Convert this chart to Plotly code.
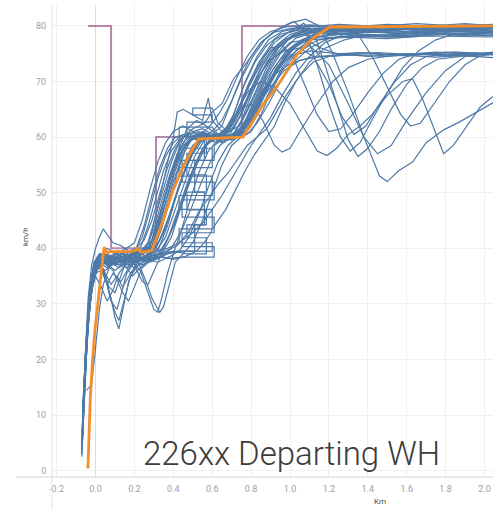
import plotly.graph_objects as go

# ---------------- data ----------------
# speed limit (step profile, km -> km/h)
limit_km = [-0.039, 0.08, 0.311, 0.753, 2.05]
limit_kmh = [80, 40, 60, 80, 80]

# target / reference profile (orange)
target_km = [-0.039, -0.027, -0.016, -0.003, 0.044, 0.06, 0.075, 0.177, 0.205, 0.214, 0.235, 0.29,
             0.347, 0.398, 0.45, 0.496, 0.532, 0.758, 0.861, 0.949, 1.036, 1.118, 1.205, 2.05]
target_kmh = [0.4, 12.9, 19.4, 25.3, 40.2, 39.2, 39.4, 39.4, 39.6, 40.0, 39.3, 39.6,
              45.0, 50.4, 54.6, 57.7, 59.7, 60.0, 65.8, 69.9, 74.8, 77.8, 79.8, 80.0]

# recorded runs (km, km/h)
run01 = [(-0.072,3),(-0.055,18),(-0.035,30),(-0.015,36),(0.01,38.5),(0.05,39),(0.1,38),(0.16,39.5),(0.22,39),(0.27,41),(0.31,46),(0.35,51),(0.39,55.5),(0.43,59),(0.47,60.5),(0.53,61),(0.6,60),(0.66,61),(0.71,64),(0.76,69),(0.82,73.5),(0.88,76.5),(0.95,78.5),(1.05,79.3),(1.2,79),(1.35,79.6),(1.5,79.2),(1.65,79.8),(1.8,79.4),(1.95,80.1),(2.05,79.8)]
run02 = [(-0.068,8),(-0.05,20),(-0.03,31),(-0.01,36.5),(0.02,38),(0.06,37),(0.1,38.5),(0.15,37.5),(0.2,39),(0.26,39.5),(0.3,42),(0.34,47),(0.38,52),(0.42,56),(0.46,58.5),(0.5,60),(0.56,59.5),(0.63,60.5),(0.7,60),(0.75,63),(0.8,67.5),(0.86,72),(0.92,75.5),(1.0,77.8),(1.1,78.8),(1.25,79.3),(1.4,78.9),(1.6,79.5),(1.8,79.1),(2.05,79.6)]
run03 = [(-0.065,12),(-0.048,22),(-0.028,32),(-0.005,37),(0.03,38.2),(0.08,37.5),(0.13,39),(0.19,38),(0.25,39.2),(0.3,40.5),(0.35,45),(0.4,50.5),(0.45,55),(0.5,58.5),(0.55,60),(0.62,59),(0.68,59.8),(0.74,61),(0.8,64.5),(0.86,68.5),(0.93,71.5),(1.0,73.2),(1.1,74.3),(1.3,74.8),(1.5,74.5),(1.7,75),(1.9,74.8),(2.05,75.2)]
run04 = [(-0.07,5),(-0.052,19),(-0.03,30),(-0.01,35),(0.02,37),(0.05,35),(0.08,31),(0.1,27.5),(0.12,25.5),(0.14,29),(0.17,34),(0.21,37.5),(0.26,38.5),(0.31,40),(0.36,43.5),(0.41,49),(0.46,54),(0.51,58),(0.56,60.5),(0.62,60),(0.7,59.5),(0.76,62),(0.82,66.5),(0.88,71),(0.95,75),(1.03,77.8),(1.12,78.8),(1.3,78.5),(1.5,79.2),(1.7,78.8),(1.9,79.5),(2.05,79.2)]
run05 = [(-0.066,10),(-0.05,21),(-0.032,29),(-0.012,34),(0.01,36.5),(0.04,36),(0.07,32),(0.1,28.5),(0.12,27),(0.15,31),(0.18,35),(0.22,37),(0.27,38),(0.32,39.5),(0.37,44),(0.42,50),(0.47,55),(0.52,59),(0.57,60.5),(0.63,59.5),(0.69,60.5),(0.74,63.5),(0.79,68),(0.85,72.5),(0.91,75.5),(0.98,77.5),(1.05,78.5),(1.2,77.9),(1.4,78.3),(1.6,78),(1.8,78.5),(2.05,78.2)]
run06 = [(-0.062,14),(-0.045,24),(-0.025,32),(0.0,36),(0.04,38),(0.09,37),(0.14,38.5),(0.19,37.5),(0.23,36),(0.27,32),(0.3,29),(0.32,28.5),(0.34,31),(0.37,35.5),(0.4,39),(0.44,43),(0.48,48),(0.53,53.5),(0.58,57.5),(0.63,59.5),(0.69,60),(0.75,60.5),(0.8,63),(0.86,67),(0.92,71),(0.98,74),(1.05,76),(1.15,77.5),(1.3,78.2),(1.5,78),(1.7,78.6),(1.9,78.3),(2.05,78.8)]
run07 = [(-0.07,2.5),(-0.058,14),(-0.04,26),(-0.02,33),(0.005,37),(0.05,38.5),(0.11,38),(0.17,39),(0.22,37.5),(0.26,34),(0.29,31),(0.33,28.5),(0.35,29.5),(0.38,33.5),(0.41,37.5),(0.45,39),(0.5,41),(0.55,45),(0.6,50),(0.65,55),(0.7,58.5),(0.75,60),(0.8,61),(0.85,64),(0.9,68),(0.96,72),(1.03,75),(1.1,76.5),(1.2,73),(1.3,66),(1.38,60),(1.45,57),(1.52,58.5),(1.6,63),(1.7,68),(1.8,72),(1.9,74.5),(2.05,75)]
run08 = [(-0.045,14.5),(-0.02,15.5),(0.0,22),(0.02,29),(0.04,33.5),(0.07,36.5),(0.11,38),(0.16,37),(0.21,38.5),(0.26,38),(0.31,39.5),(0.36,42),(0.41,47),(0.46,52),(0.51,56.5),(0.56,59.5),(0.62,60.5),(0.68,59.5),(0.73,60),(0.78,62.5),(0.84,66),(0.9,70.5),(0.97,74.5),(1.04,77),(1.12,78.5),(1.25,79.5),(1.45,79.2),(1.65,79.7),(1.85,79.4),(2.05,80)]
run09 = [(-0.068,7),(-0.054,20),(-0.038,31),(-0.02,37),(0.0,40),(0.02,42),(0.04,43.5),(0.06,42.5),(0.09,41),(0.13,40.5),(0.17,39.5),(0.21,40),(0.25,41.5),(0.29,45),(0.33,50),(0.37,54.5),(0.41,58),(0.45,60),(0.5,61.5),(0.56,62.5),(0.6,64.5),(0.65,66),(0.71,70.5),(0.78,73.5),(0.85,77),(0.92,79),(1.0,80.5),(1.08,81.2),(1.15,80),(1.22,75),(1.3,68),(1.38,60),(1.46,53),(1.5,52),(1.56,54),(1.63,55.5),(1.7,59),(1.79,61.3),(1.87,62.7),(1.98,64.9),(2.05,66.3)]
run10 = [(-0.064,11),(-0.049,23),(-0.03,32),(-0.01,37),(0.02,38.5),(0.06,39),(0.12,38),(0.18,39.5),(0.24,39),(0.29,40.5),(0.33,44.5),(0.37,49.5),(0.41,54),(0.45,57.5),(0.49,59.5),(0.55,60),(0.61,59.5),(0.66,60.5),(0.7,62.5),(0.75,66.5),(0.8,70.5),(0.86,74.5),(0.92,77.5),(1.0,79),(1.07,80.5),(1.12,79),(1.18,73),(1.25,65),(1.3,59.5),(1.35,56.5),(1.4,58),(1.46,61),(1.52,65),(1.6,69.5),(1.68,72.5),(1.76,74),(1.9,74.6),(2.05,74.3)]
run11 = [(-0.06,13),(-0.044,24),(-0.026,31.5),(-0.005,35.5),(0.03,37.5),(0.08,38.5),(0.14,37.5),(0.2,38.5),(0.26,40),(0.3,43.5),(0.34,48.5),(0.38,53),(0.42,57),(0.46,59.5),(0.52,60.5),(0.58,59.5),(0.64,60.5),(0.69,62),(0.74,65.5),(0.79,68.5),(0.85,70),(0.92,69),(1.0,66),(1.08,61),(1.14,57.5),(1.19,56.7),(1.24,58),(1.3,60.5),(1.36,62),(1.42,64),(1.5,67.5),(1.58,70),(1.63,70.5),(1.68,67),(1.74,61.5),(1.79,57),(1.84,58.5),(1.9,61.5),(1.98,65.5),(2.05,67.5)]
run12 = [(-0.07,6),(-0.056,17),(-0.038,28),(-0.018,34),(0.01,37),(0.05,36),(0.1,37.5),(0.16,36.5),(0.22,38),(0.28,37.5),(0.34,38.5),(0.4,38),(0.46,38.5),(0.52,39.5),(0.57,41.5),(0.62,44.5),(0.67,47),(0.72,50.5),(0.77,54),(0.82,57),(0.87,59.5),(0.92,62),(0.97,66),(1.03,70),(1.1,73.5),(1.18,76),(1.28,77.5),(1.4,78.5),(1.6,78.2),(1.8,78.8),(2.05,78.5)]
run13 = [(-0.066,9),(-0.052,19),(-0.034,29),(-0.015,35),(0.015,37.5),(0.06,38),(0.12,36.5),(0.18,38),(0.24,37),(0.3,38.5),(0.36,39.5),(0.42,40.5),(0.48,43),(0.53,46.5),(0.58,49),(0.63,51.5),(0.68,53.5),(0.73,56),(0.78,58.5),(0.83,60),(0.88,61.5),(0.93,64.5),(0.98,67.5),(1.05,71),(1.12,73.5),(1.2,74.5),(1.4,75),(1.6,74.6),(1.8,75.3),(2.05,75)]
run14 = [(-0.067,8),(-0.052,19),(-0.034,29),(-0.014,34.5),(0.015,37),(0.06,38),(0.12,37),(0.18,38.5),(0.24,39.5),(0.29,41.5),(0.33,46),(0.37,51),(0.41,55),(0.45,58),(0.5,60),(0.56,60.5),(0.62,60),(0.68,62),(0.74,65),(0.8,66),(0.86,63),(0.92,58.5),(0.96,57.3),(1.0,58),(1.06,61.5),(1.14,66),(1.22,70),(1.3,72.5),(1.4,74),(1.55,74.8),(1.75,74.4),(2.05,75)]
run15 = [(-0.063,12),(-0.047,22),(-0.028,30),(-0.008,35),(0.03,37.5),(0.08,38),(0.14,37.5),(0.2,38.5),(0.26,38),(0.32,38.5),(0.38,38.2),(0.445,38.4),(0.61,38.4),(0.61,40.3),(0.445,40.3),(0.445,42.8),(0.61,42.8),(0.61,45.6),(0.445,45.6),(0.445,48.7),(0.61,48.7),(0.61,51.9),(0.445,51.9),(0.445,55.8),(0.61,55.8),(0.61,58.5),(0.65,59.5),(0.7,60.5),(0.76,61.5),(0.82,65),(0.88,69),(0.95,73),(1.02,76),(1.1,77.8),(1.25,78.5),(1.45,78.2),(1.65,78.8),(1.85,78.4),(2.05,78.9)]
run16 = [(-0.069,5),(-0.055,16),(-0.039,27),(-0.02,33.5),(0.005,37),(0.05,38),(0.1,37),(0.16,38.5),(0.22,37.5),(0.28,38.5),(0.34,39),(0.4,39.5),(0.47,39),(0.57,39),(0.57,41.9),(0.47,41.9),(0.47,44.2),(0.57,44.2),(0.57,46.9),(0.47,46.9),(0.47,50.1),(0.57,50.1),(0.57,53.2),(0.47,53.2),(0.47,57.1),(0.57,57.1),(0.57,60.7),(0.47,60.7),(0.47,62.7),(0.6,62.7),(0.6,64),(0.5,64),(0.5,65.2),(0.6,65.2),(0.63,62.5),(0.68,61),(0.74,62),(0.8,66),(0.86,70.5),(0.92,74.5),(0.99,77.5),(1.07,79),(1.2,79.6),(1.4,79.2),(1.6,79.8),(1.8,79.3),(2.05,79.7)]
run17 = [(-0.064,11),(-0.049,22),(-0.031,31),(-0.011,36),(0.02,38),(0.07,38.5),(0.13,37.5),(0.19,39),(0.25,39),(0.29,43),(0.33,49),(0.37,55),(0.4,60),(0.42,64.5),(0.45,65),(0.5,64),(0.55,63),(0.58,67),(0.6,63),(0.65,61),(0.7,61.5),(0.75,64),(0.8,68.5),(0.86,73),(0.93,76.5),(1.0,78.5),(1.1,79.5),(1.3,79.2),(1.5,79.8),(1.7,79.4),(1.9,80),(2.05,79.6)]
run18 = [(-0.07,6),(-0.056,17),(-0.04,27.5),(-0.021,33.5),(0.005,37),(0.04,38),(0.09,37.5),(0.15,38.5),(0.21,38),(0.27,38.5),(0.31,42),(0.35,48),(0.39,53.5),(0.43,58),(0.47,61.5),(0.52,63),(0.57,62),(0.62,60.5),(0.68,61),(0.73,64),(0.78,68.5),(0.84,72.5),(0.9,75.5),(0.97,77.5),(1.05,78.8),(1.2,79.3),(1.4,78.8),(1.6,79.4),(1.8,79),(2.05,79.5)]
run19 = [(-0.065,10),(-0.05,21),(-0.032,30),(-0.012,35.5),(0.02,37.5),(0.07,38.5),(0.13,37.5),(0.19,39),(0.25,38),(0.3,39.5),(0.35,43),(0.4,48),(0.45,53),(0.5,57),(0.55,59.5),(0.61,60.5),(0.67,59.5),(0.72,60),(0.77,62),(0.83,65.5),(0.9,69),(0.97,72),(1.05,73.8),(1.15,74.5),(1.35,75.2),(1.55,74.8),(1.75,75.3),(1.95,74.9),(2.05,75.3)]
run20 = [(-0.068,7),(-0.054,18),(-0.037,28.5),(-0.017,34.5),(0.01,37.5),(0.05,38.5),(0.1,37),(0.16,38.5),(0.22,38),(0.28,39),(0.32,42),(0.36,47),(0.4,52),(0.44,56),(0.48,59),(0.53,60.5),(0.59,59.5),(0.65,60),(0.71,61.5),(0.76,65),(0.82,69.5),(0.88,73.5),(0.95,76.5),(1.02,78.2),(1.12,79),(1.25,79.5),(1.35,78.5),(1.43,74),(1.5,69),(1.57,64),(1.62,62),(1.67,62.5),(1.74,66),(1.82,70),(1.9,73),(1.97,74.5),(2.05,75)]
run21 = [(-0.063,12),(-0.048,22),(-0.03,31),(-0.01,36),(0.02,38),(0.06,37),(0.11,38.5),(0.17,37.5),(0.23,39),(0.28,40.5),(0.32,45),(0.36,50),(0.4,54.5),(0.44,58),(0.49,60),(0.55,60.5),(0.61,59.5),(0.67,60.5),(0.72,63),(0.78,67),(0.84,71),(0.9,74),(0.97,75.5),(1.05,76),(1.12,74.5),(1.2,69.5),(1.27,63.5),(1.33,60.5),(1.39,62),(1.46,66),(1.54,70),(1.62,73),(1.7,74.5),(1.85,75),(2.05,74.8)]
run22 = [(-0.069,4),(-0.057,13),(-0.042,24),(-0.025,31),(-0.005,35.5),(0.03,36),(0.06,33.5),(0.09,35.5),(0.13,34),(0.17,36.5),(0.22,38),(0.28,39),(0.33,41.5),(0.38,46),(0.43,51.5),(0.48,56),(0.53,59),(0.59,60),(0.65,59),(0.71,60.5),(0.76,63.5),(0.82,68),(0.88,72.5),(0.94,76),(1.01,78.3),(1.1,79.5),(1.3,79.8),(1.5,79.4),(1.7,80.1),(1.9,79.7),(2.05,80.2)]
run23 = [(-0.067,9),(-0.053,20),(-0.036,30),(-0.016,35),(0.01,38),(0.04,36),(0.07,33),(0.1,32),(0.13,35),(0.16,38),(0.2,37),(0.24,34),(0.27,33.5),(0.3,36),(0.34,39),(0.39,42),(0.44,47.5),(0.49,53),(0.54,57),(0.59,59.5),(0.65,60.5),(0.71,59.5),(0.77,61),(0.83,64.5),(0.89,69),(0.96,73.5),(1.03,76.5),(1.12,78),(1.3,78.6),(1.5,78.3),(1.7,78.9),(1.9,78.5),(2.05,79)]
run24 = [(-0.071,3),(-0.06,12),(-0.045,22),(-0.028,30),(-0.01,34.5),(0.02,37),(0.05,35),(0.08,30.5),(0.11,29),(0.13,31.5),(0.16,35.5),(0.2,37.5),(0.25,38.5),(0.3,38),(0.35,40),(0.4,44),(0.45,49),(0.5,54),(0.55,58),(0.6,60),(0.66,60.5),(0.72,60),(0.78,62),(0.84,66),(0.9,70),(0.97,74),(1.05,77),(1.15,78.6),(1.35,79.1),(1.55,78.7),(1.75,79.3),(2.05,79)]
run25 = [(-0.061,13),(-0.046,24),(-0.028,33),(-0.008,37.5),(0.02,39),(0.07,38.5),(0.12,39.5),(0.17,38.5),(0.21,40),(0.25,44),(0.29,49.5),(0.33,54.5),(0.37,58),(0.41,60),(0.46,60.5),(0.52,59.5),(0.58,60.5),(0.63,60),(0.68,61.5),(0.72,65),(0.77,70),(0.83,74.5),(0.89,77.5),(0.96,79),(1.05,79.6),(1.25,79.1),(1.45,79.7),(1.65,79.3),(1.85,79.9),(2.05,79.5)]
run26 = [(-0.066,10),(-0.051,21),(-0.033,30.5),(-0.013,36),(0.015,38.5),(0.06,37.5),(0.11,39),(0.16,38),(0.21,39.5),(0.26,38.5),(0.3,40),(0.34,43.5),(0.38,48.5),(0.42,53.5),(0.46,57.5),(0.5,60),(0.55,61),(0.6,60),(0.66,59),(0.72,60.5),(0.77,63),(0.82,67),(0.88,71.5),(0.94,75),(1.0,77),(1.08,77.5),(1.16,76),(1.24,75),(1.4,74.5),(1.6,75),(1.8,74.6),(2.05,75)]
run27 = [(-0.065,10),(-0.05,20),(-0.033,29.5),(-0.013,35),(0.015,37.5),(0.06,36.5),(0.11,38),(0.17,37),(0.23,38.5),(0.29,38),(0.35,39),(0.42,39.5),(0.51,39.5),(0.51,44.2),(0.56,44.2),(0.56,50.1),(0.51,50.1),(0.51,55.8),(0.56,55.8),(0.56,60),(0.62,60.5),(0.68,60),(0.74,61),(0.8,64),(0.86,68),(0.93,72.5),(1.0,75.5),(1.08,77.5),(1.2,78.5),(1.4,79),(1.6,78.6),(1.8,79.2),(2.05,78.8)]
run28 = [(-0.064,11),(-0.05,22),(-0.031,31),(-0.012,36),(0.02,38.5),(0.07,37),(0.13,38.5),(0.19,37.5),(0.25,38.5),(0.31,39.5),(0.37,40),(0.43,41),(0.49,42.5),(0.55,44.5),(0.6,47),(0.65,49.5),(0.7,52.5),(0.75,55.5),(0.8,58.5),(0.85,61),(0.9,63.5),(0.96,67.5),(1.03,71.5),(1.1,74.5),(1.18,77),(1.28,78.5),(1.45,79.3),(1.65,78.9),(1.85,79.5),(2.05,79.1)]
run29 = [(-0.062,12),(-0.047,23),(-0.029,32),(-0.009,37),(0.02,39),(0.06,38),(0.11,39.5),(0.16,38.5),(0.2,39.5),(0.24,42),(0.28,47),(0.32,52.5),(0.36,56.5),(0.4,59),(0.45,60.5),(0.5,60),(0.56,61),(0.6,62.5),(0.64,64.5),(0.68,67),(0.73,71),(0.78,74.5),(0.84,77.5),(0.9,79),(0.98,79.8),(1.1,80.2),(1.3,79.8),(1.5,80.3),(1.7,79.9),(1.9,80.4),(2.05,80)]
run30 = [(-0.06,14),(-0.045,25),(-0.027,33),(-0.007,37.5),(0.025,39),(0.07,38),(0.12,39.5),(0.18,38.5),(0.23,40),(0.27,44),(0.31,49),(0.35,54),(0.39,57.5),(0.43,59.5),(0.48,60.5),(0.54,60),(0.6,61),(0.65,63),(0.7,66.5),(0.75,70.5),(0.81,74.5),(0.87,77.5),(0.94,79.5),(1.02,80.8),(1.08,79),(1.14,73),(1.2,66),(1.26,60),(1.31,57.5),(1.36,59),(1.42,63),(1.5,68),(1.58,72.5),(1.66,75.5),(1.75,77.5),(1.85,78.6),(2.05,79)]
run31 = [(-0.067,6),(-0.053,17),(-0.036,27),(-0.017,33),(0.01,36.5),(0.05,37.5),(0.1,36),(0.15,37.5),(0.2,36.5),(0.26,38),(0.32,37.5),(0.38,38.5),(0.43,39.5),(0.48,42),(0.53,46),(0.58,51),(0.63,55.5),(0.68,58.5),(0.73,60),(0.78,60.5),(0.83,62.5),(0.89,66),(0.95,70),(1.02,73.5),(1.1,76),(1.2,77.8),(1.35,78.4),(1.55,78),(1.75,78.6),(2.05,78.3)]
run32 = [(-0.066,9),(-0.051,20),(-0.034,30),(-0.014,35.5),(0.015,38),(0.05,35.5),(0.08,33.5),(0.11,35),(0.14,33),(0.18,35.5),(0.22,37.5),(0.27,38.5),(0.32,39),(0.37,41.5),(0.42,45.5),(0.47,50.5),(0.52,55),(0.57,58.5),(0.62,60),(0.68,59.5),(0.74,60.5),(0.79,63),(0.85,67.5),(0.91,72),(0.98,75.5),(1.06,77.5),(1.15,78.8),(1.35,79.3),(1.55,78.9),(1.75,79.5),(2.05,79.2)]
run33 = [(-0.064,11),(-0.049,21),(-0.031,30),(-0.011,35.5),(0.02,37.5),(0.07,37),(0.13,38.5),(0.19,37.5),(0.25,38.5),(0.31,38),(0.37,39),(0.43,39.5),(0.6,39.5),(0.6,41),(0.43,41),(0.43,43.5),(0.6,43.5),(0.6,47),(0.43,47),(0.43,49.5),(0.6,49.5),(0.6,53),(0.43,53),(0.43,54.5),(0.6,54.5),(0.6,58),(0.43,58),(0.43,61.8),(0.6,61.8),(0.64,60),(0.7,60.5),(0.76,62),(0.82,66),(0.88,70.5),(0.95,74),(1.02,76.5),(1.1,77.5),(1.3,78),(1.5,77.7),(1.7,78.2),(2.05,78)]
run34 = [(-0.063,13),(-0.048,23),(-0.03,32),(-0.01,36.5),(0.02,38.5),(0.06,40),(0.11,39),(0.16,40),(0.2,41),(0.24,45),(0.28,50.5),(0.32,55.5),(0.36,59),(0.4,61),(0.45,62),(0.5,61),(0.55,61.5),(0.6,60.5),(0.65,62),(0.69,65.5),(0.74,70),(0.79,74),(0.85,77),(0.91,78.8),(1.0,79.5),(1.1,79.9),(1.3,79.5),(1.5,80),(1.7,79.6),(1.9,80.2),(2.05,79.9)]
run35 = [(-0.069,4),(-0.057,14),(-0.041,25),(-0.022,32),(0.0,35),(0.03,33),(0.06,30.5),(0.09,32.5),(0.12,35.5),(0.15,37),(0.19,35),(0.23,36.5),(0.28,38),(0.33,39),(0.38,42.5),(0.43,47.5),(0.48,52.5),(0.53,56.5),(0.58,59),(0.64,60),(0.7,59.5),(0.75,61),(0.81,64.5),(0.87,68.5),(0.93,72),(1.0,74.5),(1.1,75.5),(1.25,75),(1.45,75.2),(1.65,74.8),(1.85,75.3),(2.05,75)]
run36 = [(-0.065,10),(-0.05,21),(-0.032,30.5),(-0.012,35.5),(0.02,37.5),(0.07,38.5),(0.12,37.5),(0.18,39),(0.24,38),(0.3,40.5),(0.34,45.5),(0.38,51),(0.42,55.5),(0.46,58.5),(0.51,60),(0.57,60.5),(0.63,59.5),(0.68,61),(0.73,64.5),(0.78,69),(0.84,73.5),(0.9,76),(0.96,76.5),(1.02,74),(1.08,69),(1.14,64),(1.2,61),(1.26,61.5),(1.33,64.5),(1.4,68),(1.48,71.5),(1.56,74),(1.65,75),(1.85,74.7),(2.05,75.1)]
run37 = [(-0.062,12),(-0.046,23),(-0.028,32),(-0.008,36.5),(0.025,38),(0.07,37.5),(0.12,39),(0.17,37.5),(0.22,38.5),(0.27,39.5),(0.31,43),(0.35,48.5),(0.39,53.5),(0.43,57.5),(0.47,60),(0.53,60.5),(0.59,59.5),(0.64,60),(0.69,61.5),(0.74,65.5),(0.8,70),(0.86,74),(0.92,77),(0.99,78.8),(1.08,79.8),(1.25,80.3),(1.45,79.9),(1.65,80.4),(1.85,80),(2.05,80.3)]
run38 = [(-0.07,5),(-0.056,16),(-0.039,26),(-0.02,32.5),(0.005,36),(0.04,37.5),(0.09,36),(0.14,32),(0.17,30.5),(0.2,33),(0.24,36.5),(0.29,38),(0.34,38.5),(0.39,40),(0.44,43),(0.49,47),(0.54,51.5),(0.59,55.5),(0.64,58.5),(0.69,60),(0.74,60.5),(0.79,61.5),(0.84,64.5),(0.9,68.5),(0.96,72.5),(1.03,75.5),(1.1,77.5),(1.2,78.5),(1.4,78.9),(1.6,78.5),(1.8,79.1),(2.05,78.7)]

runs = [run01, run02, run03, run04, run05, run06, run07, run08, run09, run10,
        run11, run12, run13, run14, run15, run16, run17, run18, run19, run20,
        run21, run22, run23, run24, run25, run26, run27, run28, run29, run30,
        run31, run32, run33, run34, run35, run36, run37, run38]

x_ticks = [-0.2, 0.0, 0.2, 0.4, 0.6, 0.8, 1.0, 1.2, 1.4, 1.6, 1.8, 2.0]
x_tick_text = ["-0.2", "0.0", "0.2", "0.4", "0.6", "0.8", "1.0", "1.2", "1.4", "1.6", "1.8", "2.0"]
y_ticks = [0, 10, 20, 30, 40, 50, 60, 70, 80]

# ---------------- styles ----------------
BLUE = "#4e79a7"
ORANGE = "#f28e2b"
PURPLE = "#b07aa1"

fig = go.Figure()

fig.add_trace(go.Scatter(x=limit_km, y=limit_kmh, mode="lines", line_shape="hv",
                         line=dict(color=PURPLE, width=2), opacity=0.9, hoverinfo="skip"))

for r in runs:
    fig.add_trace(go.Scatter(x=[p[0] for p in r], y=[p[1] for p in r], mode="lines",
                             line=dict(color=BLUE, width=1.2), hoverinfo="skip"))

fig.add_trace(go.Scatter(x=target_km, y=target_kmh, mode="lines",
                         line=dict(color=ORANGE, width=2.8), hoverinfo="skip"))

L, R, T, B = 52, 0, 5, 33
W, H = 493, 510
pw, ph = W - L - R, H - T - B

def px_x(p):
    return (p - L) / pw

def px_y(p):
    return (H - B - p) / ph

tick_font = dict(family="Roboto, Arial, sans-serif", size=9, color="#a0a0a0")

fig.update_layout(
    width=W, height=H, autosize=False,
    margin=dict(l=L, r=R, t=T, b=B, pad=0),
    plot_bgcolor="white", paper_bgcolor="white",
    showlegend=False, hovermode=False,
    xaxis=dict(range=[-0.2237, 2.0437], tickvals=x_ticks, ticktext=x_tick_text,
               showgrid=True, gridcolor="#f0f0f0", gridwidth=1,
               zeroline=True, zerolinecolor="#dcdcdc", zerolinewidth=1,
               showline=False, ticks="outside", ticklen=3, tickcolor="rgba(0,0,0,0)",
               tickfont=tick_font),
    yaxis=dict(range=[-1.13, 83.76], tickvals=y_ticks,
               showgrid=True, gridcolor="#f0f0f0", gridwidth=1,
               zeroline=False, showline=False, ticks="outside", ticklen=3,
               tickcolor="rgba(0,0,0,0)", tickfont=tick_font),
    shapes=[
        dict(type="line", xref="paper", yref="paper", x0=px_x(16), x1=1, y0=0, y1=0,
             line=dict(color="#d4d4d4", width=1)),
        dict(type="line", xref="paper", yref="paper", x0=0, x1=0, y0=px_y(510), y1=1,
             line=dict(color="#e2e2e2", width=1)),
    ],
    annotations=[
        dict(text="226xx Departing WH", xref="paper", yref="paper",
             x=px_x(291.5), y=px_y(453.5), xanchor="center", yanchor="middle",
             showarrow=False,
             font=dict(family="Roboto, Lato, sans-serif", size=33, color="#3c3c3c", weight=300)),
        dict(text="km/h", xref="paper", yref="paper", x=px_x(25), y=px_y(237),
             xanchor="center", yanchor="middle", textangle=-90, showarrow=False,
             font=dict(family="Roboto, Arial, sans-serif", size=8, color="#444")),
        dict(text="Km", xref="paper", yref="paper", x=px_x(380), y=px_y(501),
             xanchor="center", yanchor="middle", showarrow=False,
             font=dict(family="Roboto, Arial, sans-serif", size=8, color="#444")),
    ],
)

fig.write_html("out.html")
